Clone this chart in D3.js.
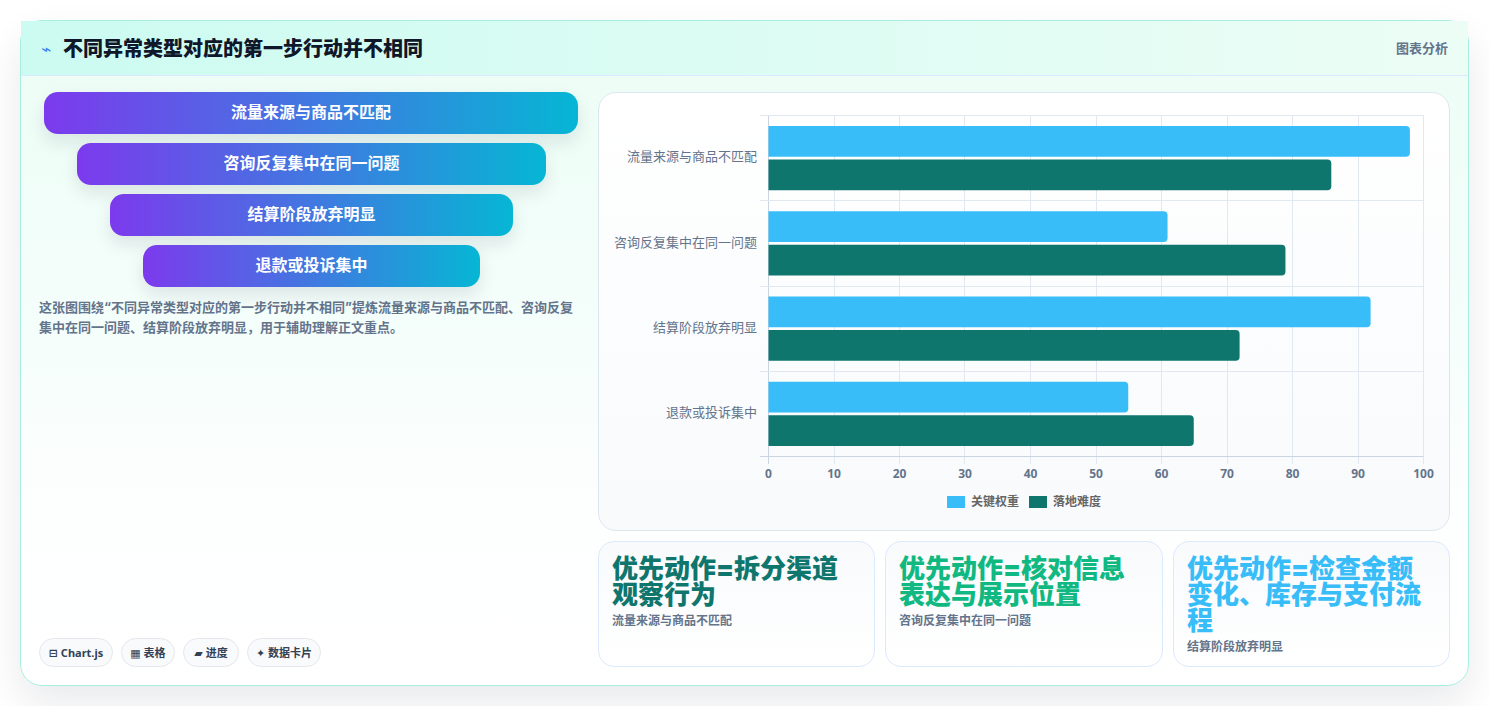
<!DOCTYPE html>
<html lang="zh"><head><meta charset="utf-8">
<script src="https://cdn.jsdelivr.net/npm/d3@7/dist/d3.min.js"></script>
<style>
*{box-sizing:border-box}
html,body{margin:0;width:1489px;height:706px;overflow:hidden;background:#fff;font-family:"Inter","Noto Sans CJK SC",sans-serif}
.abs{position:absolute}
#card{left:20px;top:20px;width:1449px;height:666px;border:1px solid #a7eee0;border-radius:22px;background:linear-gradient(180deg,#ecfdf5 0%,#f4fefb 45%,#fdfefe 72%,#fff 100%);box-shadow:0 18px 40px rgba(15,23,42,.09)}
#head{left:21px;top:21px;width:1447px;height:55px;background:linear-gradient(90deg,#ccfbf1,#ecfdf5);border-bottom:1px solid #dbeafe}
#title{left:63px;top:34px;font-size:20px;font-weight:800;line-height:30px;color:#0f172a;white-space:nowrap}
#ico{left:41px;top:37px;font-size:17px;line-height:24px;color:#3b82f6;font-family:"DejaVu Sans"}
#tag{left:1396px;top:39px;font-size:13px;line-height:18px;font-weight:700;color:#64748b;white-space:nowrap}
.fn{height:42px;border-radius:14px;background:linear-gradient(90deg,#7c3aed,#06b6d4);box-shadow:0 8px 18px rgba(15,23,42,.1);color:#fff;font-size:16px;font-weight:700;line-height:41px;text-align:center}
#desc{left:39px;top:297px;width:540px;font-size:13px;font-weight:700;line-height:20px;color:#64748b}
.chip{top:638px;height:29px;border:1px solid #e5e7eb;border-radius:15px;background:#f8fafc;color:#334155;font-family:"Noto Sans","DejaVu Sans","Noto Sans CJK SC",sans-serif;font-size:11px;font-weight:700;line-height:28px;text-align:center;white-space:nowrap}
#panel{left:598px;top:92px;width:852px;height:439px;border:1px solid #dbe7ef;border-radius:18px;background:linear-gradient(180deg,#fff,#f8fafc)}
.kpi{top:541px;height:126px;border:1px solid #dbeafe;border-radius:16px;background:linear-gradient(180deg,#f8fafc,#fff);padding:14px 13px 12px}
.kpi b{display:block;font-size:26px;line-height:26px;font-weight:900}
.kpi span{display:block;margin-top:5px;font-size:12px;line-height:16px;font-weight:700;color:#64748b}
#chart{left:0;top:0}
#chart text{font-family:"Noto Sans CJK SC","Noto Sans",sans-serif}
</style></head><body>
<div id="card" class="abs"></div>
<div id="head" class="abs"></div>
<div id="ico" class="abs">⌁</div>
<div id="title" class="abs"></div>
<div id="tag" class="abs"></div>
<div id="desc" class="abs"></div>
<div id="panel" class="abs"></div>
<svg id="chart" class="abs" width="1489" height="706"></svg>
<script>
const titleText = "不同异常类型对应的第一步行动并不相同";
const tagText = "图表分析";
const categories = ["流量来源与商品不匹配","咨询反复集中在同一问题","结算阶段放弃明显","退款或投诉集中"];
const seriesNames = ["关键权重","落地难度"];
const seriesColors = ["#38bdf8","#0f766e"];
const weightValues = [98,61,92,55];
const difficultyValues = [86,79,72,65];
const xTicks = [0,10,20,30,40,50,60,70,80,90,100];
const descText = "这张图围绕“不同异常类型对应的第一步行动并不相同”提炼流量来源与商品不匹配、咨询反复集中在同一问题、结算阶段放弃明显，用于辅助理解正文重点。";
const chipLabels = ["⊟ Chart.js","▦ 表格","▰ 进度","✦ 数据卡片"];
const kpiTitles = ["优先动作=拆分渠道观察行为","优先动作=核对信息表达与展示位置","优先动作=检查金额变化、库存与支付流程"];
const kpiSubs = ["流量来源与商品不匹配","咨询反复集中在同一问题","结算阶段放弃明显"];
const kpiColors = ["#0f766e","#10b981","#38bdf8"];

const funnelBox = [[44,534],[77,469],[110,403],[143,337]];
const chipBox = [[39,74],[121,54],[183,56],[247,74]];
const kpiBox = [[598,277],[885,278],[1173,277]];

d3.select("#title").text(titleText);
d3.select("#tag").text(tagText);
d3.select("#desc").text(descText);

const body = d3.select("body");
body.selectAll(".fn").data(categories).join("div")
  .attr("class","fn abs")
  .style("left",(d,i)=>funnelBox[i][0]+"px")
  .style("width",(d,i)=>funnelBox[i][1]+"px")
  .style("top",(d,i)=>(92+i*51)+"px")
  .text(d=>d);
body.selectAll(".chip").data(chipLabels).join("div")
  .attr("class","chip abs")
  .style("left",(d,i)=>chipBox[i][0]+"px")
  .style("width",(d,i)=>chipBox[i][1]+"px")
  .text(d=>d);
const kpis = body.selectAll(".kpi").data(kpiTitles).join("div")
  .attr("class","kpi abs")
  .style("left",(d,i)=>kpiBox[i][0]+"px")
  .style("width",(d,i)=>kpiBox[i][1]+"px");
kpis.append("b").text(d=>d).style("color",(d,i)=>kpiColors[i]);
kpis.append("span").text((d,i)=>kpiSubs[i]);

const svg = d3.select("#chart");
const x = d3.scaleLinear().domain([0,100]).range([768,1423]);
const y = d3.scaleBand().domain(categories).range([115.5,456.5]);
const y1 = d3.scaleBand().domain(seriesNames).range([0,y.bandwidth()]).paddingOuter(0.31).paddingInner(0.088);

// grid
const grid = svg.append("g");
grid.selectAll(".v").data(xTicks).join("line")
  .attr("x1",d=>Math.round(x(d))+.5).attr("x2",d=>Math.round(x(d))+.5)
  .attr("y1",115).attr("y2",464).attr("stroke",d=>d===0?"#cbd5e1":"#e2e8f0");
const hLines = categories.map(c=>y(c)).concat(456.5);
grid.selectAll(".h").data(hLines).join("line")
  .attr("x1",760).attr("x2",1423.5)
  .attr("y1",d=>Math.floor(d)+.5).attr("y2",d=>Math.floor(d)+.5)
  .attr("stroke",(d,i)=>i===4?"#cbd5e1":"#e2e8f0");

// bars
const barPath = (x0,x1,y0,h,r)=>`M${x0},${y0}H${x1-r}Q${x1},${y0} ${x1},${y0+r}V${y0+h-r}Q${x1},${y0+h} ${x1-r},${y0+h}H${x0}Z`;
[weightValues,difficultyValues].forEach((vals,s)=>{
  svg.append("g").selectAll("path").data(vals).join("path")
    .attr("fill",seriesColors[s])
    .attr("d",(v,i)=>barPath(x(0)+.5,x(v),y(categories[i])+y1(seriesNames[s]),y1.bandwidth(),4));
});

// axes text
const xAxis = d3.axisBottom(x).tickValues(xTicks).tickSize(0).tickPadding(0);
const gx = svg.append("g").attr("transform","translate(0,469)").call(xAxis);
gx.select(".domain").remove();
gx.selectAll("text").attr("font-size",12).attr("font-weight",700).attr("fill","#64748b").attr("dy","0.71em").attr("y",0)
  .style("font-family",'"Noto Sans","Noto Sans CJK SC",sans-serif');
const yAxis = d3.axisLeft(y).tickSize(0).tickPadding(11);
const gy = svg.append("g").attr("transform","translate(768,-1)").call(yAxis);
gy.select(".domain").remove();
gy.selectAll("text").attr("font-size",13).attr("fill","#64748b");

// legend
const legendX = [947,1029];
const lg = svg.append("g").selectAll("g").data(seriesNames).join("g")
  .attr("transform",(d,i)=>`translate(${legendX[i]},496)`);
lg.append("rect").attr("width",18).attr("height",12).attr("fill",(d,i)=>seriesColors[i]);
lg.append("text").attr("x",24).attr("y",9.5).attr("font-size",12).attr("font-weight",700).attr("fill","#666").text(d=>d);
</script>
</body></html>
